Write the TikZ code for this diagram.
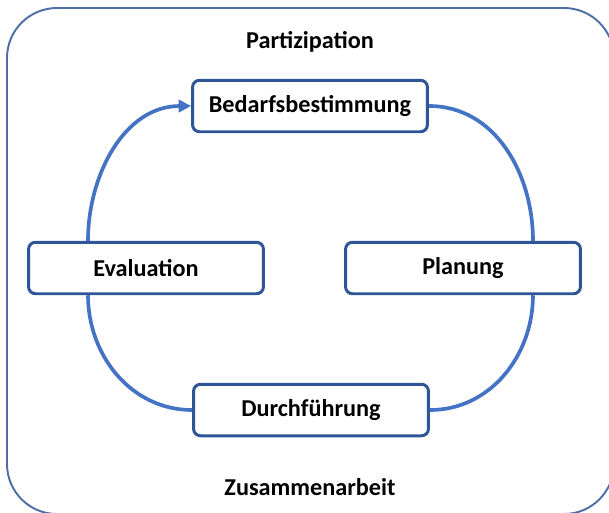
\documentclass[tikz,border=0pt]{standalone}
\usepackage{fontspec}
\setmainfont{Carlito}
\usetikzlibrary{arrows.meta}

\definecolor{boxblue}{RGB}{47,85,151}
\definecolor{lineblue}{RGB}{68,114,196}

\begin{document}
\begin{tikzpicture}[
		x=0.02cm, y=-0.02cm,
		every node/.style={font=\fontsize{13.8}{16}\selectfont\bfseries},
		phase/.style={rectangle, draw=boxblue, line width=1.7pt, rounded corners=4pt,
			fill=white, minimum width=4.7cm, minimum height=1.03cm},
		cycle/.style={draw=lineblue, line width=2.1pt}
	]
  \clip (0,0) rectangle (609,512);
  \draw[draw=boxblue!85!white, line width=1.1pt, rounded corners=1cm] (7,8) rectangle (614,514);
  \node (part) at (310,42) {Partizipation};
  \node (zus) at (310,487) {Zusammenarbeit};
  \node (bed) [phase] at (310,106) {Bedarfsbestimmung};
  \node (ev) [phase] at (146,268) {Evaluation};
  \node (plan) [phase] at (463,268) {Planung};
  \node (durch) [phase] at (311,410) {Durchführung};
  \draw[cycle, -{Triangle[length=7pt,width=7pt]}] ([xshift=-1.16cm]ev.north) to[out=90, in=180] (bed.west);
  \draw[cycle] (bed.east) to[out=0, in=90] ([xshift=1.4cm]plan.north);
  \draw[cycle] ([xshift=1.4cm]plan.south) to[out=-90, in=0] (durch.east);
  \draw[cycle] (durch.west) to[out=180, in=-90] ([xshift=-1.16cm]ev.south);
\end{tikzpicture}
\end{document}
